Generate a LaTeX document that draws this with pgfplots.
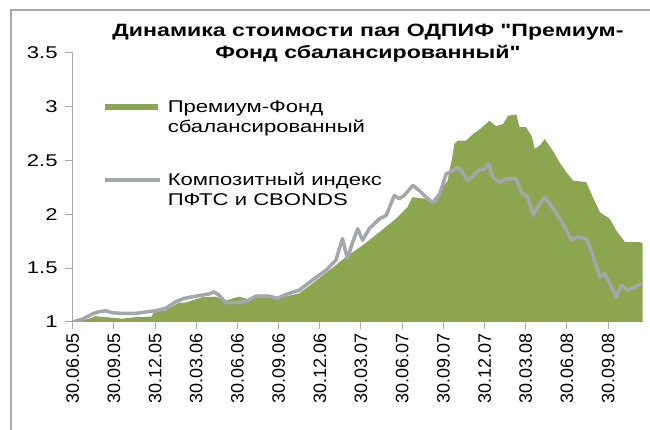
\documentclass[border=0pt]{standalone}
\usepackage{fontspec}
\setmainfont{Liberation Sans}[FakeStretch=1.3]
\newfontfamily\titlefont{Liberation Sans}[FakeStretch=1.3, Ligatures=TeXOff]
\newfontfamily\xlabfont{Liberation Sans}
\usepackage{pgfplots}
\usepackage{pgfplotstable}
\pgfplotsset{compat=1.18}
\definecolor{fundgreen}{RGB}{139,166,79}
\definecolor{idxgray}{RGB}{165,165,172}
\definecolor{axgray}{RGB}{170,170,170}

\pgfplotstableread{
x y
0 1.0
0.15 1.01
0.4 1.03
0.55 1.055
0.63 1.05
0.96 1.04
1.2 1.03
1.53 1.045
1.92 1.05
1.95 1.085
2.26 1.11
2.58 1.18
2.74 1.18
3.15 1.23
3.47 1.235
3.72 1.2
4.04 1.235
4.28 1.21
4.53 1.24
4.85 1.235
5.09 1.23
5.5 1.266
5.82 1.358
6.23 1.48
6.64 1.605
7.04 1.713
7.45 1.836
7.85 1.96
8.13 2.067
8.25 2.16
8.58 2.145
8.82 2.11
8.91 2.22
9.10 2.31
9.2 2.5
9.27 2.655
9.35 2.685
9.55 2.685
9.72 2.747
9.88 2.79
10.12 2.87
10.28 2.82
10.45 2.84
10.57 2.917
10.77 2.93
10.85 2.81
11.01 2.81
11.14 2.73
11.22 2.61
11.34 2.64
11.46 2.70
11.66 2.59
11.82 2.484
11.99 2.39
12.15 2.315
12.47 2.3
12.63 2.16
12.80 2.02
13.04 1.96
13.20 1.85
13.41 1.743
13.77 1.743
13.84 1.73
}\fund

\pgfplotstableread{
x y
0 1.0
0.23 1.025
0.47 1.074
0.63 1.095
0.80 1.105
0.96 1.086
1.20 1.08
1.53 1.08
1.77 1.093
2.01 1.105
2.26 1.127
2.50 1.188
2.70 1.219
2.90 1.234
3.15 1.25
3.31 1.26
3.43 1.28
3.55 1.25
3.72 1.18
3.96 1.18
4.20 1.19
4.45 1.24
4.77 1.24
4.97 1.22
5.21 1.26
5.50 1.296
5.82 1.389
6.15 1.48
6.39 1.574
6.55 1.775
6.67 1.59
6.80 1.743
6.92 1.867
7.04 1.76
7.20 1.867
7.45 1.96
7.61 1.99
7.81 2.176
7.93 2.145
8.05 2.176
8.26 2.27
8.42 2.22
8.58 2.16
8.74 2.11
8.91 2.19
9.07 2.377
9.23 2.407
9.35 2.44
9.47 2.39
9.59 2.315
9.72 2.36
9.88 2.42
10.00 2.42
10.10 2.475
10.20 2.345
10.36 2.3
10.53 2.33
10.77 2.33
10.89 2.207
11.05 2.16
11.18 1.99
11.34 2.1
11.46 2.16
11.58 2.1
11.78 1.99
11.95 1.88
12.11 1.76
12.23 1.79
12.47 1.775
12.63 1.62
12.80 1.42
12.92 1.45
13.12 1.296
13.20 1.234
13.32 1.343
13.48 1.296
13.64 1.327
13.84 1.358
}\index

\begin{document}
\begin{tikzpicture}
\path[use as bounding box] (-72.7pt,-108pt) rectangle (577.3pt,322pt);
\draw[axgray, line width=1.2pt] (-61.7pt,-112pt) -- (-61.7pt,312pt) -- (582pt,312pt);
\begin{axis}[
  at={(0pt,0pt)}, anchor=south west,
  scale only axis, width=570pt, height=269pt,
  xmin=0, xmax=13.84, ymin=1, ymax=3.5,
  axis x line=bottom, axis y line=left,
  axis line style={-, axgray, line width=1pt},
  tick style={axgray, line width=1pt},
  tick align=outside, major tick length=7.5pt,
  xtick={0,1,2,3,4,5,6,7,8,9,10,11,12,13},
  xticklabels={30.06.05,30.09.05,30.12.05,30.03.06,30.06.06,30.09.06,30.12.06,30.03.07,30.06.07,30.09.07,30.12.07,30.03.08,30.06.08,30.09.08},
  xticklabel style={rotate=90, anchor=east, font=\xlabfont\fontsize{18}{18}\selectfont},
  ytick={1,1.5,2,2.5,3,3.5},
  yticklabel style={font=\fontsize{17}{17}\selectfont, xshift=-4pt},
  /pgf/number format/assume math mode=true,
  title={Динамика стоимости пая ОДПИФ "Премиум-\\Фонд сбалансированный"},
  title style={at={(axis description cs:0.518,1.10)}, anchor=north, align=center, font=\titlefont\bfseries\fontsize{17.8}{22}\selectfont},
  legend style={at={(axis description cs:0.048,0.836)}, anchor=north west, draw=none, fill=none,
    font=\fontsize{17}{20}\selectfont, nodes={align=left, inner sep=1pt}, row sep=37pt,
    /tikz/every odd column/.append style={column sep=5pt}},
  legend cell align=left,
]
\addplot[fill=fundgreen, draw=none,
  legend image code/.code={\fill[fundgreen] (0pt,7pt) rectangle (53pt,12.6pt);}]
  table[x=x,y=y] {\fund} \closedcycle;
\addlegendentry{Премиум-Фонд\\сбалансированный}
\addplot[idxgray, line width=3.5pt, line join=round,
  legend image code/.code={\draw[idxgray, line width=3.5pt] (0pt,9.5pt) -- (55pt,9.5pt);}]
  table[x=x,y=y] {\index};
\addlegendentry{Композитный индекс\\ПФТС и CBONDS}
\end{axis}
\end{tikzpicture}
\end{document}
